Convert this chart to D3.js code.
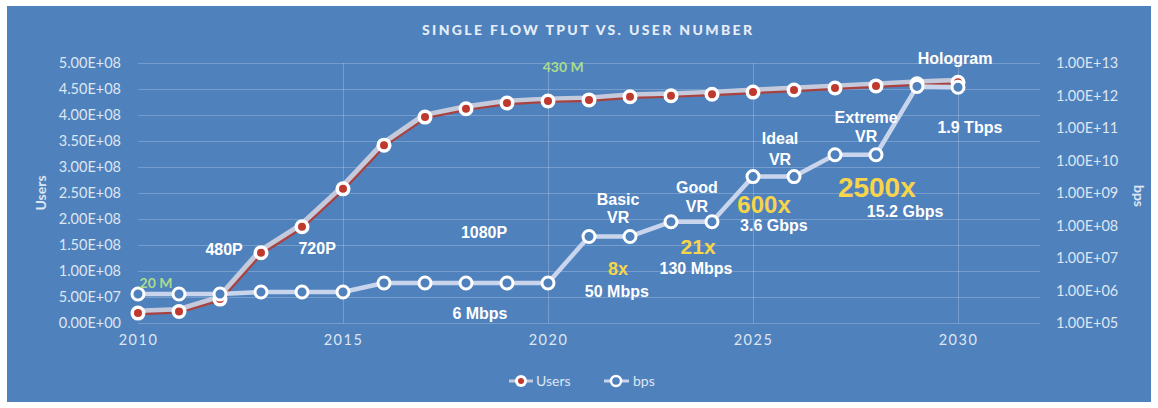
<!DOCTYPE html>
<html>
<head>
<meta charset="utf-8">
<script src="https://cdn.jsdelivr.net/npm/d3@7"></script>
<style>
    body { margin: 0; background: #fff; }
    svg { display: block; }
</style>
</head>
<body>
<div id="chart"></div>
<script>
// data
const years = d3.range(2010, 2031);
const users = [1.9e7, 2.2e7, 4.6e7, 1.35e8, 1.85e8, 2.58e8, 3.42e8, 3.96e8, 4.12e8, 4.23e8, 4.27e8,
               4.29e8, 4.35e8, 4.37e8, 4.40e8, 4.44e8, 4.48e8, 4.52e8, 4.56e8, 4.60e8, 4.63e8];
const bps = [7.8e5, 7.8e5, 7.8e5, 9.0e5, 9.0e5, 9.0e5, 1.7e6, 1.7e6, 1.7e6, 1.7e6, 1.7e6,
             4.6e7, 4.6e7, 1.3e8, 1.3e8, 3.2e9, 3.2e9, 1.5e10, 1.5e10, 1.9e12, 1.8e12];
const xTicks = [2010, 2015, 2020, 2025, 2030];
const userTicks = d3.range(0, 5.01e8, 0.5e8);
const bpsTicks = [1e5, 1e6, 1e7, 1e8, 1e9, 1e10, 1e11, 1e12, 1e13];

// annotations anchored in (year, users) units
const notes = [
    { t: '20 M', x: 2010.44, y: 7.7e7, k: 'green' },
    { t: '430 M', x: 2020.37, y: 4.92e8, k: 'green' },
    { t: '480P', x: 2012.10, y: 1.42e8 },
    { t: '720P', x: 2014.37, y: 1.44e8 },
    { t: '1080P', x: 2018.44, y: 1.75e8 },
    { t: '6 Mbps', x: 2018.34, y: 1.9e7 },
    { t: 'Basic', x: 2021.71, y: 2.38e8 },
    { t: 'VR', x: 2021.71, y: 2.04e8 },
    { t: '8x', x: 2021.71, y: 1.04e8, k: 'yellow', s: 18 },
    { t: '50 Mbps', x: 2021.68, y: 6.2e7 },
    { t: 'Good', x: 2023.63, y: 2.62e8 },
    { t: 'VR', x: 2023.63, y: 2.25e8 },
    { t: '21x', x: 2023.66, y: 1.48e8, k: 'yellow', s: 21 },
    { t: '130 Mbps', x: 2023.61, y: 1.06e8 },
    { t: 'Ideal', x: 2025.66, y: 3.56e8 },
    { t: 'VR', x: 2025.66, y: 3.15e8 },
    { t: '600x', x: 2025.27, y: 2.29e8, k: 'yellow', s: 24 },
    { t: '3.6 Gbps', x: 2025.51, y: 1.88e8 },
    { t: 'Extreme', x: 2027.76, y: 3.96e8 },
    { t: 'VR', x: 2027.76, y: 3.6e8 },
    { t: '2500x', x: 2028.02, y: 2.62e8, k: 'yellow', s: 28 },
    { t: '15.2 Gbps', x: 2028.71, y: 2.15e8 },
    { t: 'Hologram', x: 2029.93, y: 5.1e8 },
    { t: '1.9 Tbps', x: 2030.29, y: 3.77e8 }
];

const W = 1158, H = 408;
const bg = '#4f81bd';
const tickColor = '#dde6f2';

const svg = d3.select('#chart').append('svg')
    .attr('width', W)
    .attr('height', H);

svg.append('rect')
    .attr('x', 7).attr('y', 6)
    .attr('width', W - 14).attr('height', H - 12)
    .attr('fill', bg);

// scales
const x = d3.scaleLinear().domain([2010, 2032]).range([138, 1040]);
const yL = d3.scaleLinear().domain([0, 5e8]).range([323, 63]);
const yR = d3.scaleLog().domain([1e5, 1e13]).range([323, 63]);

// grid
const grid = svg.append('g').attr('stroke', 'rgba(255,255,255,0.22)').attr('stroke-width', 1);
grid.selectAll('.h').data(userTicks).enter().append('line')
    .attr('x1', x(2010)).attr('x2', x(2032))
    .attr('y1', d => Math.round(yL(d)) + 0.5).attr('y2', d => Math.round(yL(d)) + 0.5);
grid.selectAll('.v').data(xTicks.slice(1)).enter().append('line')
    .attr('y1', yL(5e8)).attr('y2', yL(0))
    .attr('x1', d => Math.round(x(d)) + 0.5).attr('x2', d => Math.round(x(d)) + 0.5);

// axes (labels only, no domain/ticks)
function styleAxis(g) {
    g.select('.domain').remove();
    g.selectAll('.tick line').remove();
    g.selectAll('text')
        .attr('fill', tickColor)
        .attr('font-family', 'Lato, "Open Sans", sans-serif')
        .attr('font-size', 14.5);
}
svg.append('g')
    .attr('transform', 'translate(' + (x(2010) - 10) + ',0)')
    .call(d3.axisLeft(yL).tickValues(userTicks).tickSize(0).tickPadding(7)
        .tickFormat(d => d3.format('.2e')(d).toUpperCase().replace(/E\+(\d)$/, 'E+0$1')))
    .call(styleAxis);
svg.append('g')
    .attr('transform', 'translate(' + (x(2032) + 16) + ',0)')
    .call(d3.axisRight(yR).tickValues(bpsTicks).tickSize(0).tickPadding(0)
        .tickFormat(d => {
            const e = Math.round(Math.log10(d));
            return '1.00E+' + (e < 10 ? '0' + e : e);
        }))
    .call(styleAxis);
svg.append('g')
    .attr('transform', 'translate(0,' + (yL(0) + 3) + ')')
    .call(d3.axisBottom(x).tickValues(xTicks).tickSize(0).tickPadding(9).tickFormat(d3.format('d')))
    .call(styleAxis)
    .selectAll('text').attr('letter-spacing', 1.5);

// axis titles
svg.append('text')
    .attr('transform', 'translate(46,193) rotate(-90)')
    .attr('text-anchor', 'middle')
    .attr('fill', tickColor)
    .attr('font-family', 'Lato, sans-serif').attr('font-weight', 'bold').attr('font-size', 14)
    .text('Users');
svg.append('text')
    .attr('transform', 'translate(1134,196) rotate(90)')
    .attr('text-anchor', 'middle')
    .attr('fill', tickColor)
    .attr('font-family', 'Lato, sans-serif').attr('font-weight', 'bold').attr('font-size', 14)
    .text('bps');

// title
svg.append('text')
    .attr('x', 587).attr('y', 35)
    .attr('text-anchor', 'middle')
    .attr('fill', '#e6edf7')
    .attr('font-family', 'Lato, sans-serif').attr('font-weight', 900).attr('font-size', 14)
    .attr('textLength', 330).attr('lengthAdjust', 'spacing')
    .text('SINGLE FLOW TPUT VS. USER NUMBER');

// lines
const usersLine = d3.line().x((d, i) => x(years[i])).y(d => yL(d));
const bpsLine = d3.line().x((d, i) => x(years[i])).y(d => yR(d));

svg.append('path').datum(users)
    .attr('d', usersLine)
    .attr('fill', 'none').attr('stroke', '#c4cadb').attr('stroke-width', 6)
    .attr('stroke-linejoin', 'round')
    .attr('transform', 'translate(-1,-1.5)');
svg.append('path').datum(users)
    .attr('d', usersLine)
    .attr('fill', 'none').attr('stroke', '#a9423f').attr('stroke-width', 2.2)
    .attr('stroke-linejoin', 'round')
    .attr('transform', 'translate(0.8,1)');

svg.append('path').datum(bps)
    .attr('d', bpsLine)
    .attr('fill', 'none').attr('stroke', '#c9d5ec').attr('stroke-width', 4.5)
    .attr('stroke-linejoin', 'round');

// markers
const um = svg.append('g').selectAll('g').data(users).enter().append('g')
    .attr('transform', (d, i) => 'translate(' + x(years[i]) + ',' + yL(d) + ')');
um.append('circle').attr('r', 7.5).attr('fill', '#fff');
um.append('circle').attr('r', 4).attr('fill', '#c0392f');

svg.append('g').selectAll('circle').data(bps).enter().append('circle')
    .attr('cx', (d, i) => x(years[i]))
    .attr('cy', d => yR(d))
    .attr('r', 6)
    .attr('fill', bg)
    .attr('stroke', '#fff').attr('stroke-width', 3);

// annotations
const colors = { green: '#a9dc8d', yellow: '#f7d449' };
svg.append('g').selectAll('text').data(notes).enter().append('text')
    .attr('x', d => x(d.x))
    .attr('y', d => yL(d.y))
    .attr('dy', '0.36em')
    .attr('text-anchor', 'middle')
    .attr('fill', d => colors[d.k] || '#fff')
    .attr('font-family', d => d.k === 'green' ? 'Lato, sans-serif' : '"Liberation Sans", Arial, sans-serif')
    .attr('font-weight', 'bold')
    .attr('font-size', d => d.s || (d.k === 'green' ? 14 : 16))
    .text(d => d.t);

// legend
const legend = svg.append('g').attr('transform', 'translate(0,381)');
legend.append('line').attr('x1', 509).attr('x2', 533).attr('stroke', '#c4cadb').attr('stroke-width', 3);
legend.append('circle').attr('cx', 521).attr('r', 6).attr('fill', '#fff');
legend.append('circle').attr('cx', 521).attr('r', 3).attr('fill', '#c0392f');
legend.append('text').attr('x', 536).attr('dy', '0.35em').text('Users');
legend.append('line').attr('x1', 604).attr('x2', 629).attr('stroke', '#c9d5ec').attr('stroke-width', 3);
legend.append('circle').attr('cx', 616).attr('r', 5).attr('fill', bg).attr('stroke', '#fff').attr('stroke-width', 2.5);
legend.append('text').attr('x', 633).attr('dy', '0.35em').text('bps');
legend.selectAll('text')
    .attr('fill', tickColor)
    .attr('font-family', 'Lato, sans-serif')
    .attr('font-size', 14);
</script>
</body>
</html>
